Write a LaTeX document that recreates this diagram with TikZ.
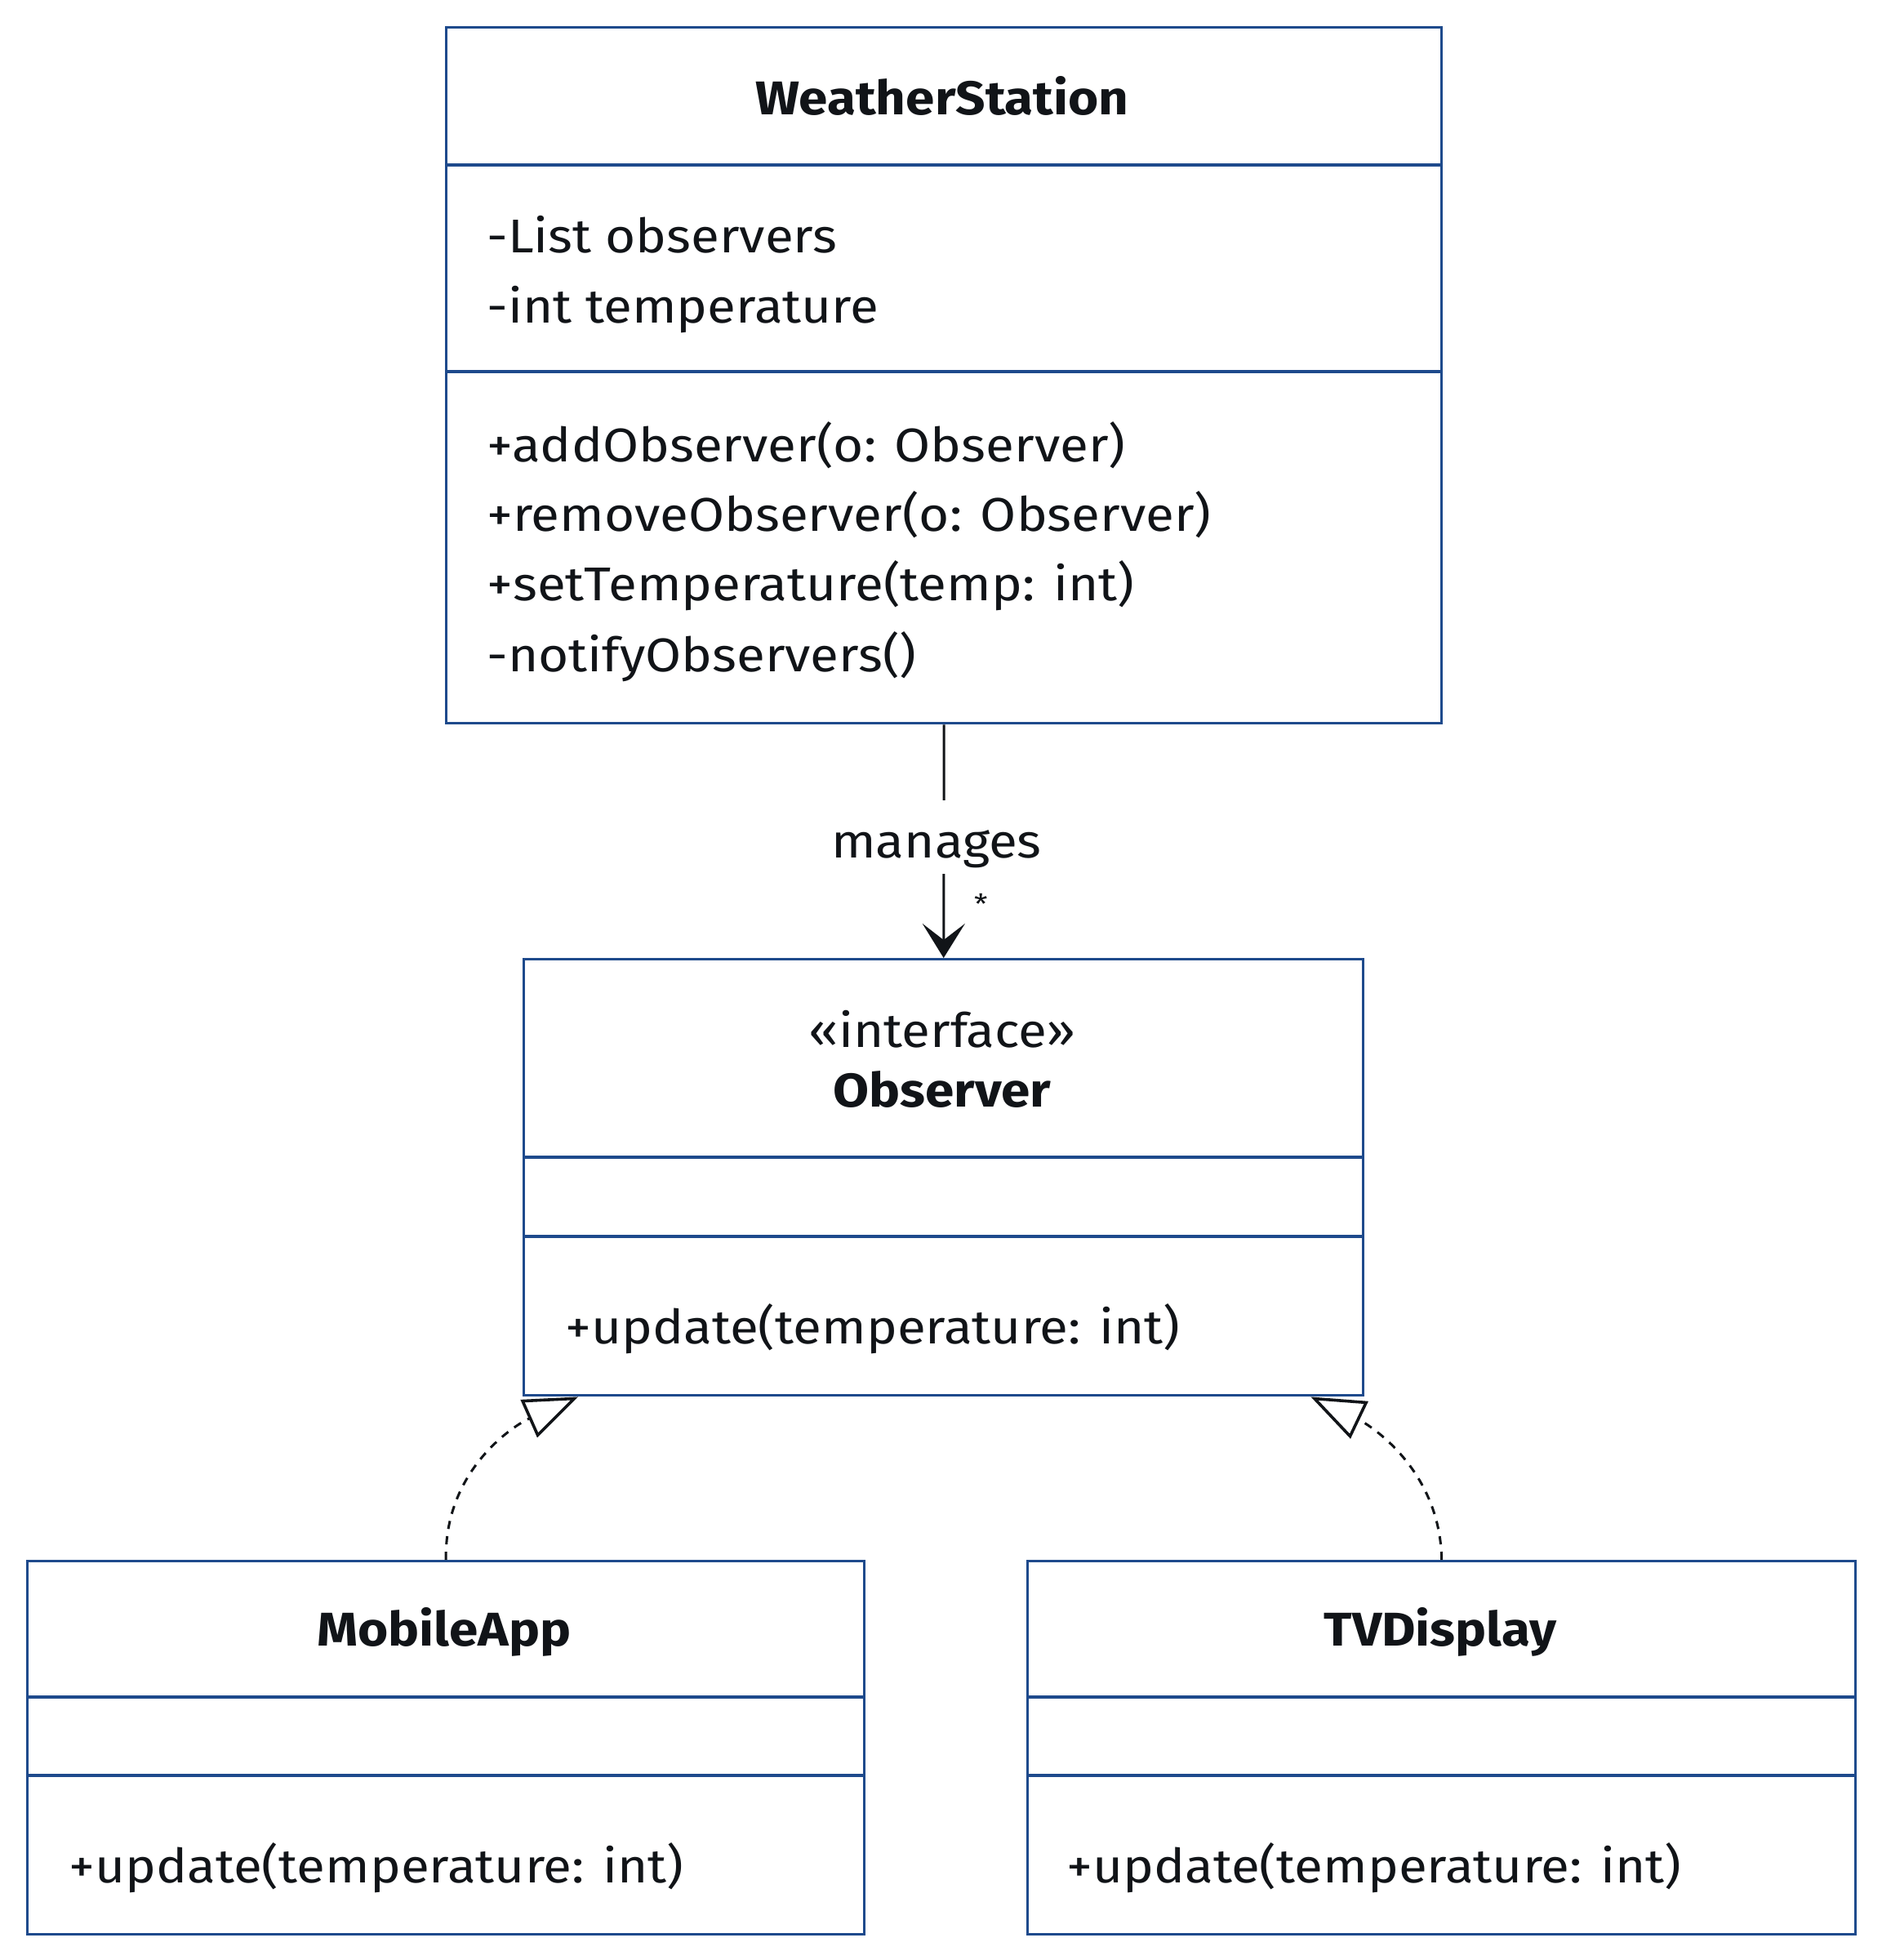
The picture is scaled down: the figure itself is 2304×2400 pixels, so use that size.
\documentclass[tikz,border=0pt]{standalone}
\usepackage{fontspec}
\setmainfont[FakeStretch=1.1]{Fira Sans}
\usetikzlibrary{arrows.meta,calc}
\definecolor{boxblue}{RGB}{30,74,140}
\definecolor{ink}{RGB}{17,20,24}
\begin{document}
\begin{tikzpicture}[x=0.5pt,y=-0.5pt,
  umlbox/.style={draw=boxblue, line width=1.7pt, fill=white, inner sep=0pt, anchor=north west},
  divider/.style={draw=boxblue, line width=1.7pt},
  txt/.style={inner sep=0pt, text=ink, font=\fontsize{29}{35}\selectfont, anchor=base west},
  ttl/.style={inner sep=0pt, text=ink, font=\fontsize{29}{35}\selectfont\bfseries, anchor=base},
  stereo/.style={inner sep=0pt, text=ink, font=\fontsize{29}{35}\selectfont, anchor=base},
  assoc/.style={draw=ink, line width=1.5pt, -{Stealth[length=21pt,width=26pt,inset=10pt]}},
  realize/.style={draw=ink, line width=1.5pt, dash pattern=on 5pt off 4.5pt, -{Triangle[open,length=33pt,width=25pt,line width=1.8pt]}},
  lbl/.style={inner xsep=4pt, inner ysep=0pt, text height=35pt, text depth=10pt, fill=white, text=ink, font=\fontsize{29}{35}\selectfont, anchor=base},
  cardtxt/.style={inner sep=0pt, text=ink, font=\fontsize{17}{19}\selectfont}
]
\fill[white] (0,0) rectangle (2304,2400);
\useasboundingbox (0,0) rectangle (2304,2400);

% boxes
\node[umlbox, minimum width=609.5pt, minimum height=426pt] (ws) at (545,32) {};
\node[umlbox, minimum width=514pt, minimum height=267pt] (obs) at (640,1173) {};
\node[umlbox, minimum width=512.5pt, minimum height=228.5pt] (ma) at (32,1910) {};
\node[umlbox, minimum width=507pt, minimum height=228.5pt] (tv) at (1257,1910) {};

% dividers
\draw[divider] ($(ws.north west)+(0,170)$) -- ($(ws.north east)+(0,170)$);
\draw[divider] ($(ws.north west)+(0,423)$) -- ($(ws.north east)+(0,423)$);
\draw[divider] ($(obs.north west)+(0,244)$) -- ($(obs.north east)+(0,244)$);
\draw[divider] ($(obs.north west)+(0,341)$) -- ($(obs.north east)+(0,341)$);
\draw[divider] ($(ma.north west)+(0,168)$) -- ($(ma.north east)+(0,168)$);
\draw[divider] ($(ma.north west)+(0,264)$) -- ($(ma.north east)+(0,264)$);
\draw[divider] ($(tv.north west)+(0,168)$) -- ($(tv.north east)+(0,168)$);
\draw[divider] ($(tv.north west)+(0,264)$) -- ($(tv.north east)+(0,264)$);

% WeatherStation texts
\node[ttl] (wsT) at (1154,140) {WeatherStation};
\node[txt] (wsA1) at (596,309) {-List observers};
\node[txt] (wsA2) at (596,395) {-int temperature};
\node[txt] (wsM1) at (596,565) {+addObserver(o: Observer)};
\node[txt] (wsM2) at (596,650) {+removeObserver(o: Observer)};
\node[txt] (wsM3) at (596,735) {+setTemperature(temp: int)};
\node[txt] (wsM4) at (596,822) {-notifyObservers()};

% Observer texts
\node[stereo] (obsS) at (1154,1282) {«interface»};
\node[ttl] (obsT) at (1154,1355) {Observer};
\node[txt] (obsM) at (692,1645) {+update(temperature: int)};

% MobileApp / TVDisplay texts
\node[ttl] (maT) at (544,2015) {MobileApp};
\node[txt] (maM) at (84,2305) {+update(temperature: int)};
\node[ttl] (tvT) at (1764,2015) {TVDisplay};
\node[txt] (tvM) at (1306,2305) {+update(temperature: int)};

% association
\draw[assoc] (ws.south) -- (obs.north);
\node[lbl] (mg) at (1147,1050) {manages};
\node[cardtxt] (card) at (1202,1107) {*};

% realizations
\coordinate (tipL) at ($(obs.south west)+(68,0)$);
\coordinate (tipR) at ($(obs.south east)+(-66,0)$);
\draw[realize] (ma.north) .. controls (544,1800) and (630,1745) .. (tipL);
\draw[realize] (tv.north) .. controls (1764,1800) and (1678,1745) .. (tipR);
\end{tikzpicture}
\end{document}
